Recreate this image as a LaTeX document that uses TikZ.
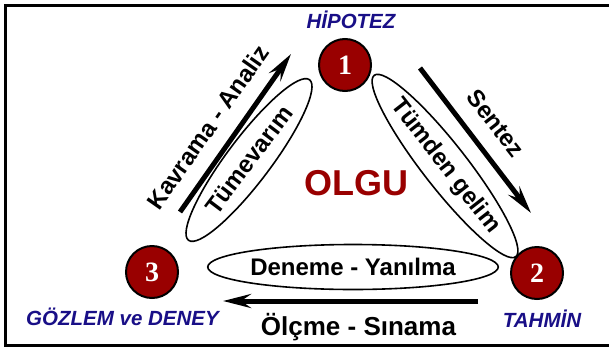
\documentclass[tikz,border=0pt]{standalone}
\usepackage{fontspec}
\setmainfont{Liberation Sans}
\newfontfamily\numfont{Liberation Serif}
\usetikzlibrary{arrows.meta,shapes.geometric}
\definecolor{darkred}{RGB}{153,0,0}
\definecolor{navyblue}{RGB}{25,15,135}
\begin{document}
\begin{tikzpicture}[x=1pt,y=-1pt,
  numcirc/.style={circle,draw=black,line width=2pt,fill=darkred,minimum size=52pt,inner sep=0pt,text=white,font=\numfont\bfseries\fontsize{28}{28}\selectfont},
  bluelabel/.style={text=navyblue,font=\bfseries\itshape\fontsize{20.5}{20}\selectfont,inner sep=0pt,anchor=base},
  oval/.style={ellipse,draw=black,line width=1.6pt,inner sep=0pt},
  bigarrow/.style={line width=5pt,-{Stealth[length=28pt,width=14pt,inset=10pt]}},
  blacktext/.style={font=\bfseries\fontsize{24}{24}\selectfont,inner sep=0pt}]
\useasboundingbox (0,0) rectangle (609,348);
\clip (0,0) rectangle (609,348);
\fill[white] (0,0) rectangle (609,348);
\draw[line width=3pt] (5,5) rectangle (620,345);

% numbered circles
\node[numcirc] (c1) at (345,65) {1};
\node[numcirc] (c2) at (537,273) {2};
\node[numcirc] (c3) at (152,272) {3};

% blue labels
\node[bluelabel] (hip) at (351,28) {HİPOTEZ};
\node[bluelabel] (tah) at (542,327) {TAHMİN};
\node[bluelabel] (goz) at (122.5,325) {GÖZLEM ve DENEY};

% centre
\node[font=\bfseries\fontsize{36}{36}\selectfont,text=darkred,inner sep=0pt,anchor=base] (olgu) at (356.5,195) {OLGU};

% ovals
\node[oval,blacktext,rotate=53,minimum width=201pt,minimum height=44pt] (tume) at (249,160) {Tümevarım};
\node[oval,blacktext,rotate=-52,minimum width=209pt,minimum height=44pt] (tumd) at (445,166) {Tümden gelim};
\node[oval,blacktext,minimum width=273pt,minimum height=45pt] (den) at (353,267) {Deneme - Yanılma};

% arrows
\coordinate (ka1) at (180,212);
\coordinate (ka2) at (291,54);
\coordinate (se1) at (420,68);
\coordinate (se2) at (531,213);
\coordinate (ol1) at (478,301);
\coordinate (ol2) at (223,301);
\draw[bigarrow] (ka1) -- (ka2);
\draw[bigarrow] (se1) -- (se2);
\draw[bigarrow] (ol1) -- (ol2);

% arrow labels
\node[blacktext,rotate=55] (kav) at (208,127) {Kavrama - Analiz};
\node[blacktext,rotate=-52] (sen) at (496,123) {Sentez};
\node[blacktext,anchor=base,font=\bfseries\fontsize{26}{26}\selectfont] (olc) at (358.5,335) {Ölçme - Sınama};
\end{tikzpicture}
\end{document}
